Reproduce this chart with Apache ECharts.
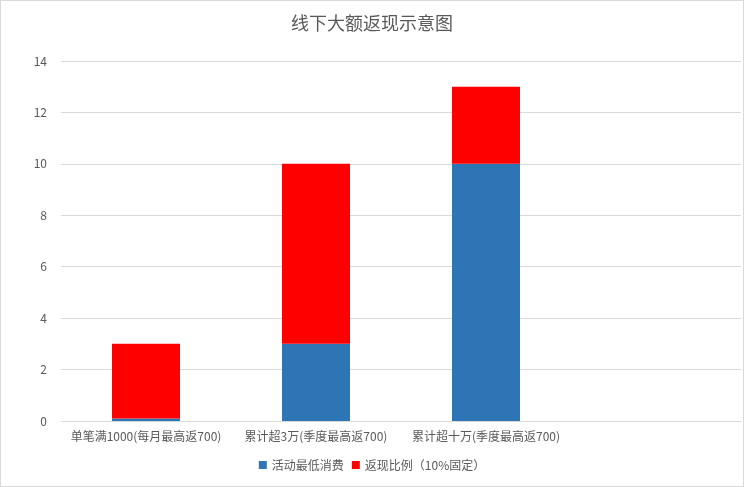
<!DOCTYPE html>
<html lang="zh">
<head>
    <meta charset="UTF-8">
    <title>线下大额返现示意图</title>
    <script src="https://cdn.jsdelivr.net/npm/echarts@6/dist/echarts.min.js"></script>
    <style>
        html, body { margin: 0; padding: 0; background: #fff; }
        #main { width: 742px; height: 485px; border: 1px solid #d9d9d9; }
    </style>
</head>
<body>
<div id="main"></div>
<script type="text/javascript">
    // 数据
    var categories = ['单笔满1000(每月最高返700)', '累计超3万(季度最高返700)', '累计超十万(季度最高返700)', ''];
    var minSpend = [0.1, 3, 10, null];
    var cashback = [2.9, 7, 3, null];
    var seriesNames = ['活动最低消费', '返现比例（10%固定）'];

    var font = '"Noto Sans CJK SC", "Microsoft YaHei", sans-serif';
    var myChart = echarts.init(document.getElementById('main'));
    var option = {
        animation: false,
        textStyle: { fontFamily: font },
        title: {
            text: '线下大额返现示意图',
            left: 'center',
            top: 8,
            textStyle: { fontFamily: font, fontSize: 18, fontWeight: 'normal', color: '#595959' }
        },
        legend: {
            bottom: 10,
            left: 'center',
            itemWidth: 8,
            itemHeight: 8,
            itemGap: 8,
            icon: 'rect',
            textStyle: { fontFamily: font, fontSize: 12, color: '#595959' },
            data: seriesNames
        },
        grid: { left: 60, right: 2, top: 60, bottom: 65 },
        xAxis: {
            type: 'category',
            data: categories,
            axisLine: { lineStyle: { color: '#d9d9d9' } },
            axisTick: { show: false },
            axisLabel: { color: '#595959', fontSize: 12, interval: 0, margin: 9 }
        },
        yAxis: {
            type: 'value',
            min: 0,
            max: 14,
            interval: 2,
            axisLine: { show: false },
            axisTick: { show: false },
            splitLine: { lineStyle: { color: '#d9d9d9' } },
            axisLabel: { color: '#595959', fontSize: 12, margin: 14 }
        },
        series: [
            {
                name: seriesNames[0],
                type: 'bar',
                stack: 'total',
                barWidth: '40%',
                itemStyle: { color: '#2e75b6' },
                data: minSpend
            },
            {
                name: seriesNames[1],
                type: 'bar',
                stack: 'total',
                barWidth: '40%',
                itemStyle: { color: '#ff0000' },
                data: cashback
            }
        ]
    };
    myChart.setOption(option);
</script>
</body>
</html>
